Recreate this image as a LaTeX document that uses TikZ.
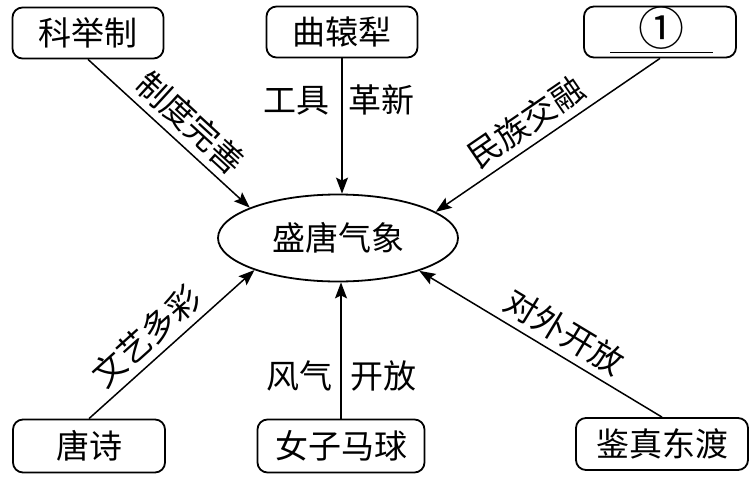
\documentclass[tikz,border=0pt]{standalone}
\usepackage{fontspec}
\newfontfamily\cjk{Noto Sans CJK SC}
\usetikzlibrary{arrows.meta,shapes.geometric}
\begin{document}
\begin{tikzpicture}[x=1pt,y=-1pt] % the Tang concept map
    \tikzstyle{every node}+=[font=\cjk\fontsize{33}{35}\selectfont]
    \tikzstyle{box}=[draw, rounded corners=10pt, line width=1.8pt, minimum height=51pt, inner sep=0pt]
    \tikzstyle{arr}=[line width=1.5pt, -{Stealth[length=16pt,width=12pt,inset=3pt]}]
    \tikzstyle{lab}=[inner sep=7pt]
    \useasboundingbox (0,0) rectangle (752,479);
    \node [draw, ellipse, line width=1.8pt, minimum width=240pt, minimum height=87pt, inner sep=0pt] (sheng) at (338,238) {盛唐气象};
    \node [box, minimum width=151pt] (kj) at (88,33) {科举制};
    \node [box, minimum width=151pt] (ql) at (342,32) {曲辕犁};
    \node [box, minimum width=152pt] (yi) at (660,32) {};
    \node [font=\cjk\fontsize{46}{46}\selectfont, inner sep=0pt] (num) at (661,28) {①};
    \draw [line width=1.3pt] ([xshift=-50pt,yshift=6pt]yi.south) -- ([xshift=53pt,yshift=6pt]yi.south);
    \node [box, minimum width=152pt, minimum height=53pt] (ts) at (89,446) {唐诗};
    \node [box, minimum width=167pt, minimum height=53pt] (nz) at (341,446) {女子马球};
    \node [box, minimum width=172pt, minimum height=52pt] (jz) at (662,444) {鉴真东渡};
    \draw [arr] (kj.south) -- (sheng.161) node [lab, pos=0.54, sloped, above] {制度完善};
    \draw [arr] (ql.south) -- (ql.south |- sheng.north)
        node [pos=0.31, left, inner sep=12pt] {工具} node [pos=0.31, right, inner sep=6pt] {革新};
    \draw [arr] (yi.south) -- (sheng.15) node [lab, pos=0.54, sloped, above] {民族交融};
    \draw [arr] (ts.north) -- (sheng.201) node [lab, pos=0.44, sloped, above] {文艺多彩};
    \draw [arr] (nz.north) -- (nz.north |- sheng.south)
        node [pos=0.31, left, inner sep=8pt] {风气} node [pos=0.31, right, inner sep=9pt] {开放};
    \draw [arr] (jz.north) -- (sheng.338.5) node [lab, pos=0.45, sloped, above] {对外开放};
\end{tikzpicture}
\end{document}
